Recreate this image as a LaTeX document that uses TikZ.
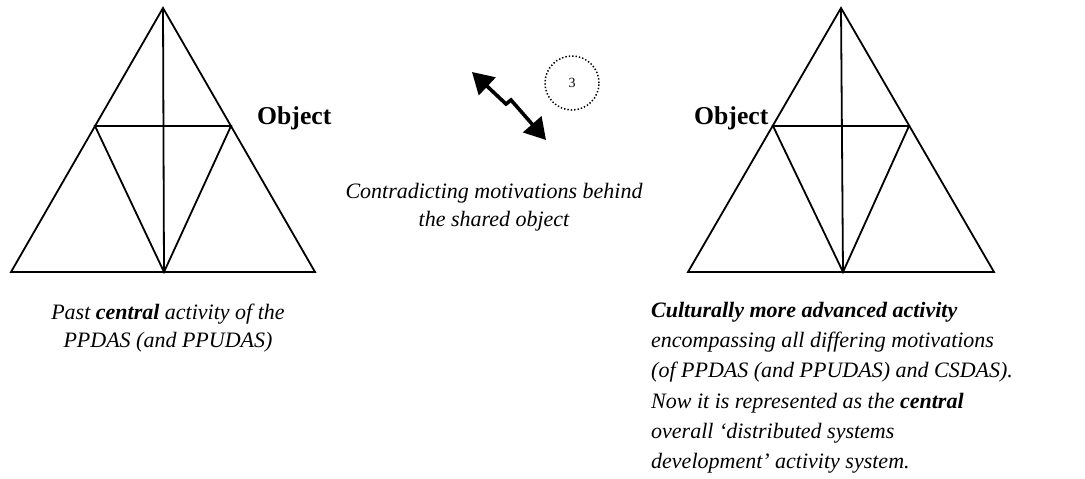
\documentclass[tikz,border=0pt]{standalone}
\usepackage{fontspec}
\setmainfont{Liberation Serif}
\usetikzlibrary{arrows.meta}

\tikzset{
  edge/.style={line width=1.8pt, line join=miter},
  caption/.style={inner sep=0pt, font=\fontsize{22}{28}\selectfont\itshape},
  objlabel/.style={inner sep=0pt, anchor=base west, font=\fontsize{25.7}{30}\selectfont\bfseries},
  bolt/.style={line width=3.6pt, line join=miter,
    {Triangle[length=21pt,width=24pt]}-{Triangle[length=21pt,width=24pt]}},
  marker/.style={circle, draw, line width=1.5pt, dash pattern=on 1.4pt off 2pt,
    minimum size=54pt, inner sep=0pt, font=\fontsize{14}{14}\selectfont}
}

\begin{document}
\begin{tikzpicture}[x=1pt,y=-1pt]
\useasboundingbox (0,0) rectangle (1085,479);

% ---- left activity triangle ----
\coordinate (la)  at (163,8);
\coordinate (lbl) at (11,272);
\coordinate (lbr) at (315,272);
\coordinate (lbm) at (164,272);
\coordinate (lml) at (95,126);
\coordinate (lmr) at (231,126);
\draw[edge] (la) -- (lbl) -- (lbr) -- cycle;
\draw[edge] (la) -- (lbm);
\draw[edge] (lml) -- (lmr) -- (lbm) -- cycle;

% ---- right activity triangle ----
\coordinate (ra)  at (841,8);
\coordinate (rbl) at (688,272);
\coordinate (rbr) at (994,272);
\coordinate (rbm) at (843,272);
\coordinate (rml) at (773,126);
\coordinate (rmr) at (909,126);
\draw[edge] (ra) -- (rbl) -- (rbr) -- cycle;
\draw[edge] (ra) -- (rbm);
\draw[edge] (rml) -- (rmr) -- (rbm) -- cycle;

% ---- object labels ----
\node[objlabel] (lobj) at (257,124) {Object};
\node[objlabel] (robj) at (694,124) {Object};

% ---- contradiction bolt and marker ----
\coordinate (b1) at (472,72);
\coordinate (k1) at (506,104);
\coordinate (k2) at (511,100);
\coordinate (b2) at (546,140);
\draw[bolt] (b1) -- (k1) -- (k2) -- (b2);
\node[marker] (mark) at (572,83) {\raisebox{-2pt}{3}};

% ---- captions ----
\node[caption, anchor=north, align=center] (mid) at (494,183)
  {Contradicting motivations behind\\the shared object};
\node[caption, anchor=north, align=center] (past) at (168,304)
  {Past \textbf{central} activity of the\\PPDAS (and PPUDAS)};
\node[caption, anchor=north west, align=left,
      font=\fontsize{22}{30.2}\selectfont\itshape] (adv) at (651,302)
  {\textbf{Culturally more advanced activity}\\
   encompassing all differing motivations\\
   (of PPDAS (and PPUDAS) and CSDAS).\\
   Now it is represented as the \textbf{central}\\
   overall ‘distributed systems\\
   development’ activity system.};
\end{tikzpicture}
\end{document}
